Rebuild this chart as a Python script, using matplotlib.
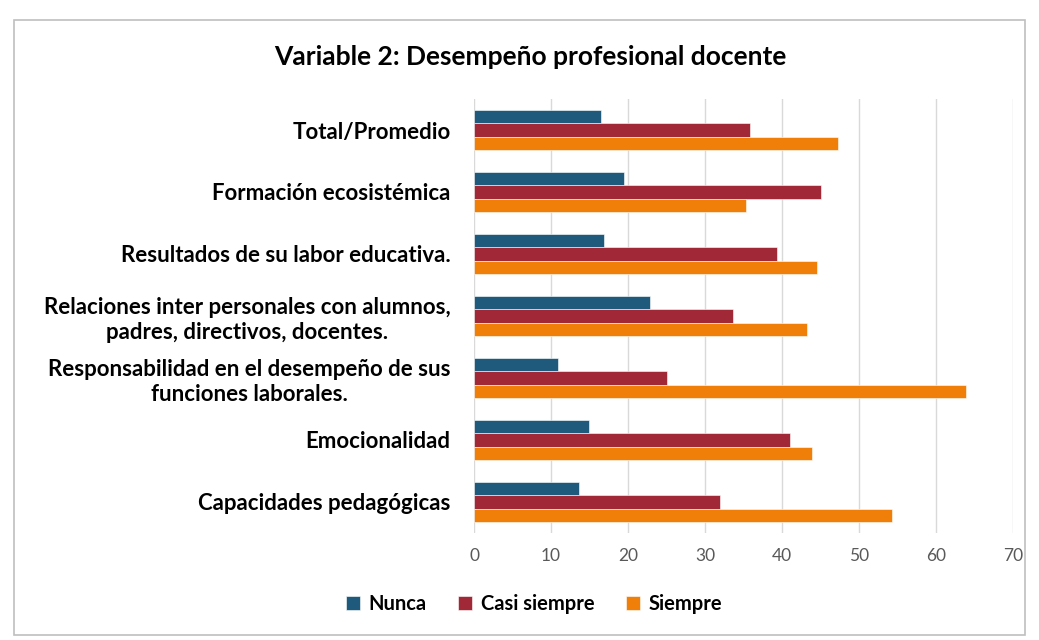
import matplotlib
matplotlib.use("Agg")
import matplotlib.pyplot as plt
from matplotlib.patches import Rectangle
import numpy as np

categories = [
    "Total/Promedio",
    "Formación ecosistémica",
    "Resultados de su labor educativa.",
    "Relaciones inter personales con alumnos,\npadres, directivos, docentes.",
    "Responsabilidad en el desempeño de sus\nfunciones laborales.",
    "Emocionalidad",
    "Capacidades pedagógicas",
]
nunca = [16.5, 19.5, 16.9, 22.9, 10.9, 14.9, 13.7]
casi_siempre = [35.9, 45.1, 39.3, 33.7, 25.1, 41.1, 31.9]
siempre = [47.3, 35.3, 44.5, 43.3, 63.9, 43.9, 54.3]
series_names = ["Nunca", "Casi siempre", "Siempre"]
colors = ["#1F5A7D", "#A12837", "#F07F09"]
xticks = [0, 10, 20, 30, 40, 50, 60, 70]

plt.rcParams['font.family'] = ['Lato', 'DejaVu Sans']

fig = plt.figure(figsize=(10.39, 6.4), dpi=100)
fig.patch.set_facecolor("white")
# chart frame
fig.patches.append(Rectangle((14/1039, 5/640), (1025-14)/1039, (620-5)/640,
                             transform=fig.transFigure, fill=False,
                             edgecolor="#BFBFBF", linewidth=1.2))

ax = fig.add_axes([474/1039, 1 - 533/640, (1013-474)/1039, (533-99)/640])
y = np.arange(len(categories))
h = 0.21
for i, (vals, name, c) in enumerate(zip([nunca, casi_siempre, siempre], series_names, colors)):
    ax.barh(y + (i - 1) * h, vals, height=h, color=c, label=name,
            edgecolor="white", linewidth=0.4, zorder=3)

ax.set_ylim(len(categories) - 0.5, -0.5)
ax.set_xlim(0, 70)
ax.set_xticks(xticks)
ax.set_xticklabels([str(t) for t in xticks], color="#595959", fontsize=12.5)
ax.set_yticks(y)
ax.set_yticklabels(categories, fontsize=16, fontweight="bold", color="#000000",
                   multialignment="center", linespacing=1.25)
ax.tick_params(axis="both", length=0)
ax.tick_params(axis="x", pad=11)
ax.tick_params(axis="y", pad=17)
ax.grid(axis="x", color="#D9D9D9", linewidth=1, zorder=0)
for s in ax.spines.values():
    s.set_visible(False)

fig.text(530/1039, 1 - 57/640, "Variable 2: Desempeño profesional docente",
         ha="center", va="center", fontsize=19, fontweight="bold", color="#000000")

fig.legend(loc="center", bbox_to_anchor=(534/1039, 1 - 604/640), ncol=3,
           frameon=False, prop={"size": 14.5, "weight": "bold"},
           handlelength=0.7, handleheight=0.7, handletextpad=0.4, columnspacing=1.6)

fig.savefig("out.png", dpi=100)
